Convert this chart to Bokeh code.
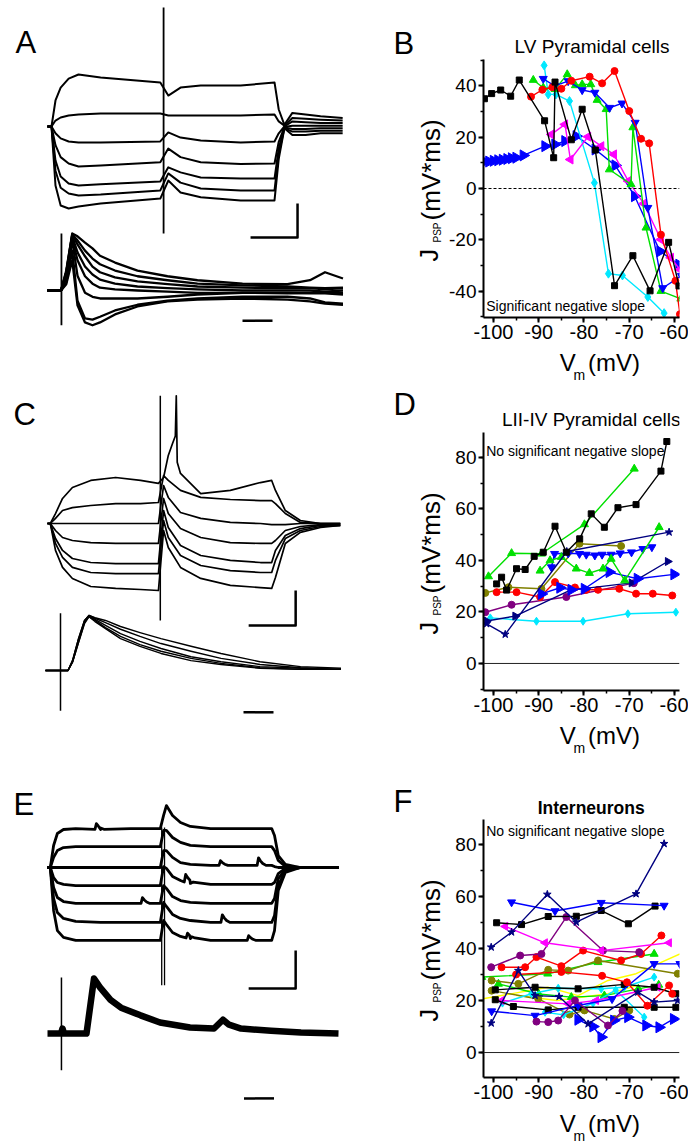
import math
import numpy as np
from bokeh.plotting import figure
from bokeh.models import Range1d, Label, Span, SingleIntervalTicker
from bokeh.layouts import row, column
from bokeh.embed import file_html
from bokeh.resources import INLINE

FONT = "Liberation Sans"

# ================= DATA =================
# ---- A: LV pyramidal cell, step traces (time ms, deflection mV)
A_up_t = [0, 8.5, 17, 28, 45, 66, 113, 240, 257, 283, 326, 411, 483, 492, 504, 521, 549, 581, 628]
A_up_1 = [0, 0, 15.3, 22.9, 28.2, 30.6, 28.8, 25.9, 18.2, 22.9, 24.1, 24.1, 25.9, 10, 1, 8, 7, 6, 5]
A_up_2 = [0, 0, 3.5, 5.3, 6.5, 7.1, 7.6, 7.6, 6.5, 6.5, 6.5, 6.5, 7.1, 3, 0.5, 5, 4.5, 4, 3.5]
A_up_3 = [0, 0, -4, -7, -8.8, -9.4, -9.4, -8.8, -3.5, -6.5, -8.2, -9.4, -8.8, -4, 0, 3, 2.5, 2, 2]
A_up_4 = [0, 0, -11, -18, -21.8, -23.5, -23, -21, -13, -18, -21, -22, -21.8, -9, -0.3, 0.5, 0.5, 0.5, 0.5]
A_up_5 = [0, 0, -20, -29.4, -33.5, -34.7, -34, -32.4, -24, -27, -30, -30.6, -30.6, -13, -0.6, -1.5, -1.5, -1, -1]
A_up_6 = [0, 0, -26, -36, -39.4, -40.6, -40, -37.6, -27.6, -33, -36.5, -37.6, -37.6, -16, -1, -3, -3, -2.5, -2.5]
A_up_7 = [0, 0, -34.7, -46.5, -48.2, -47, -45.3, -42.4, -31.8, -38.8, -41.6, -43.5, -43.5, -19, -1, -5, -5, -4, -4]
A_up_art = [247, 70, -63]            # stimulus artifact: time, top, bottom
A_up_bar_t = [432, 532, 532]         # 100 ms / 20 mV scale bar
A_up_bar_v = [-65.3, -65.3, -45.3]

A_lo_t = [0, 9, 12.5, 16.5, 20, 25, 30, 35, 45, 60, 80, 100, 130, 160, 175, 185, 197]
A_lo_1 = [0, 0, 3.5, 10, 9.5, 8.4, 7.4, 6.1, 4.9, 3.5, 2.5, 1.8, 1.2, 1.1, 1.8, 3.2, 2.1]
A_lo_2 = [0, 0, 3.2, 9.8, 8.8, 7.0, 5.6, 4.6, 3.5, 2.5, 1.8, 1.2, 0.9, 0.7, 0.5, 0.4, 0.5]
A_lo_3 = [0, 0, 3.2, 9.8, 8.1, 6.0, 4.2, 3.2, 2.3, 1.6, 1.1, 0.7, 0.5, 0.4, 0.4, 0.2, 0.4]
A_lo_4 = [0, 0, 2.6, 9.5, 6.7, 4.2, 2.8, 1.9, 1.2, 0.7, 0.4, 0.2, 0, 0, 0, -0.2, 0]
A_lo_5 = [0, 0, 2.6, 9.1, 5.3, 2.5, 1.2, 0.5, 0.2, 0, -0.2, -0.4, -0.4, -0.5, -0.4, -0.4, -0.4]
A_lo_6 = [0, 0, 2.1, 8.8, 2.6, -0.4, -1.1, -1.4, -1.4, -1.4, -1.1, -0.7, -0.4, -0.4, -0.5, -0.5, -0.7]
A_lo_7 = [0, 0, 1.4, 7.0, -1.8, -4.9, -5.1, -4.6, -3.5, -2.5, -1.8, -1.4, -1.1, -1.1, -1.4, -2.1, -2.3]
A_lo_8 = [0, 0, 1.1, 5.3, -2.6, -5.6, -6.1, -5.6, -4.2, -2.8, -1.9, -1.6, -1.4, -1.6, -1.9, -2.3, -2.5]
A_lo_art = [9.3, 10, -6.1]
A_lo_bar_t = [130, 150]
A_lo_bar_v = [-5.3, -5.3]

# ---- C: LII-IV pyramidal cell
C_up_t = [0, 6, 17, 32, 53, 92, 145, 198, 236, 247, 257, 283, 326, 389, 453, 477, 485, 506, 538, 581, 623]
C_up_1 = [0, 0, 5.7, 14.3, 20.6, 24.6, 26.3, 24.6, 22.9, 26.3, 38.9, 28.6, 17.1, 18.9, 23.4, 24.6, 18.9, 7.4, 1.7, 0, 0]
C_up_2 = [0, 0, 2.9, 7.4, 9.1, 10.3, 11.4, 11.4, 12, 27.4, 24.6, 18.9, 14.9, 13.7, 13.1, 13.1, 11.4, 5.7, 0.6, 0, 0]
C_up_3 = [0, 0, 0, 0, 0, 0, 0, 0, 0, 21.7, 14.9, 6.3, 2.9, 0.6, 0, -0.6, -0.6, -0.6, 0, 0, 0]
C_up_4 = [0, 0, -4, -8, -9.7, -10.9, -11.4, -11.4, -11.4, 14.3, 5.7, -2.9, -8, -10.9, -11.4, -11.4, -9.7, -4, -1.7, -0.6, -0.6]
C_up_5 = [0, 0, -8.6, -15.4, -20, -22.3, -22.9, -22.9, -22.9, 7.4, -2.3, -12.6, -18.3, -21.1, -22.3, -22.3, -15.4, -6.9, -2.9, -1.1, -1.1]
C_up_6 = [0, 0, -11.4, -19.4, -25.1, -28, -28.6, -28.6, -28.6, 1.7, -8, -18.3, -24, -26.9, -28, -28, -21.1, -8.6, -4, -1.7, -1.1]
C_up_7 = [0, 0, -15.4, -25.1, -31.4, -36, -37.1, -37.7, -38.3, -4, -13.7, -25.1, -31.4, -35.4, -36.6, -37.1, -30.9, -11.4, -5.1, -2.3, -1.1]
C_spike_t = [257, 266, 272, 274, 276, 283]
C_spike_v = [38.9, 45.7, 50, 73, 35, 28.6]
C_up_art = [240, 73, -55.4]
C_up_bar_t = [428, 528, 528]
C_up_bar_v = [-58.3, -58.3, -38.3]

C_lo_t = [0, 10, 15, 18, 22, 26, 29, 33, 40, 50, 63, 77, 97, 117, 143, 170, 197]
C_lo_1 = [0, 0, 0, 1.8, 5.8, 9.1, 10, 9.6, 9.1, 8, 6.9, 5.8, 4.4, 3.1, 1.6, 0.7, 0.4]
C_lo_2 = [0, 0, 0, 1.8, 5.8, 9.1, 10, 9.5, 8.7, 7.5, 6.2, 4.9, 3.5, 2.2, 1.1, 0.5, 0.2]
C_lo_3 = [0, 0, 0, 1.6, 5.5, 8.9, 10, 9.3, 8.2, 6.7, 5.3, 4, 2.5, 1.6, 0.7, 0.4, 0.2]
C_lo_4 = [0, 0, 0, 1.5, 5.1, 8.7, 9.8, 9.1, 7.8, 6.2, 4.7, 3.5, 2.2, 1.3, 0.5, 0.2, 0.2]
C_lo_5 = [0, 0, 0, 1.5, 5.1, 8.5, 9.8, 8.9, 7.6, 5.8, 4.4, 3.1, 1.8, 1.1, 0.4, 0.2, 0.2]
C_lo_art = [10, 10.4, -7.3]
C_lo_bar_t = [132, 152]
C_lo_bar_v = [-7.6, -7.6]

# ---- E: interneuron
E_up_t = [0, 6, 13, 21, 34, 60, 113, 177, 240, 247, 253, 266, 283, 304, 347, 411, 477, 483, 491, 506, 538, 619]
E_up_1 = [0, 0, 11.6, 17.9, 20, 20.5, 20, 20.5, 20.5, 27.4, 32.6, 27.4, 23.7, 21.6, 20.5, 20.5, 20.5, 16.8, 6.3, 1.6, 0, 0]
E_up_2 = [0, 0, 5.3, 8.9, 10.5, 11, 11, 11, 11, 19.5, 19.5, 15.8, 13.2, 11.6, 11, 11, 11, 8.9, 3.7, 0.5, 0, 0]
E_up_3 = [0, 0, 0, 0, 0, 0, 0, 0, 0, 8.9, 8.9, 5.3, 2.6, 1.6, 1.1, 1.1, 1.1, 0.5, 0, 0, 0, 0]
E_up_4 = [0, 0, -5.3, -7.9, -8.9, -9.5, -9.5, -9.5, -9.5, 0.5, -0.5, -4.7, -6.8, -8.4, -8.9, -8.9, -8.9, -7.9, -3.2, -0.5, 0, 0]
E_up_5 = [0, 0, -10.5, -15.8, -17.9, -18.9, -18.9, -18.9, -18.9, -9.5, -11, -15.3, -17.4, -18.4, -18.9, -18.9, -18.9, -16.3, -5.8, -1.1, 0, 0]
E_up_6 = [0, 0, -16.3, -23.7, -26.8, -28.4, -28.9, -28.9, -28.9, -18.4, -20.5, -24.7, -26.8, -27.9, -28.9, -28.9, -28.9, -25.3, -9.5, -1.6, 0, 0]
E_up_7 = [0, 0, -22.6, -33.2, -36.8, -38.4, -38.4, -38.4, -38.4, -27.9, -30, -34.2, -36.3, -37.4, -38.4, -38.4, -38.4, -33.2, -12.1, -2.6, 0, 0]
# spontaneous PSPs on the E traces: (trace index, time ms, amplitude mV)
E_up_psp = [(0, 104, 3), (2, 368, 2.5), (2, 449, 4), (3, 294, 4), (4, 202, 3),
            (5, 372, 4), (6, 298, 2.5), (6, 428, 2.5)]
E_up_art_t = [243, 249]
E_up_art_v = [21, -62]
E_up_bar_t = [428, 528, 528]
E_up_bar_v = [-63.7, -63.7, -43.7]

E_lo_t = [0, 9, 10, 11, 26, 29, 31, 35, 42, 49, 62, 75, 95, 111, 117, 121, 129, 149, 169, 194]
E_lo_v = [0, 0, 0.9, 0, 0, 6, 10, 8.4, 6.1, 4.7, 3.3, 2, 1.1, 0.9, 2.5, 1.6, 0.9, 0.5, 0.2, 0]
E_lo_art = [9.3, 10.2, -6.7]
E_lo_bar_t = [131, 151]
E_lo_bar_v = [-11.8, -11.8]

# ---- B: LV pyramidal cells, J_PSP vs Vm
B_black_x = [-102, -100.4, -98.4, -96.2, -94.3, -88.7, -86.7, -86.4, -82.8, -80.4, -77.5, -73.25, -69.2, -65.4, -61.3, -59]
B_black_y = [35, 37, 38.4, 36, 42.3, 26.4, 12, 41.5, 19, 30.9, 15, -37.9, -26.2, -39.9, -21, -38]
B_red_x = [-91.7, -89.2, -87, -85, -82.8, -78.75, -76, -73.25, -70, -67.4, -65.6, -63, -59.8, -58.8]
B_red_y = [35.8, 38.5, 39.5, 38.9, 42, 43.6, 41, 45.8, 30.2, 19.4, 17.6, -18, -36, -49]
B_green_x = [-91.2, -89, -86.4, -83.7, -81.9, -80.4, -78.5, -77.1, -75.1, -74.4, -69.6, -69.2, -66.3, -63, -58.6]
B_green_y = [42.3, 39.3, 38.7, 44.5, 40.2, 40.6, 40.6, 34.5, 30.9, 7.4, 1.6, 23.8, -15.3, -40, -43]
B_bluedn_x = [-89, -86.5, -83.5, -80.4, -77.6, -74.35, -71.6, -68.7, -65.9, -62.6, -58.5]
B_bluedn_y = [42.8, 40, 41.9, 38.4, 37.4, 31.5, 33.2, 25.7, -7.5, -38.8, -34]
B_bluert_x = [-102, -101, -100, -99, -98, -97, -96, -95, -93.4, -88.6, -86.4, -84.2, -81.7, -77.5, -73.1, -68.8, -63.2, -59]
B_bluert_y = [10.5, 10.5, 10.8, 11, 11.2, 11.5, 11.8, 12, 12.9, 16.5, 17.2, 18.5, 20.4, 15.2, 9, -3, -24.5, -29.7]
B_mag_x = [-87.2, -84.2, -83, -79.1, -76.2, -73.4, -70.2, -66.8, -63, -60.8, -58.8]
B_mag_y = [21.1, 25, 11.3, 20.2, 16.5, 13.3, 2.9, -5.9, -19.9, -27, -31.6]
B_cyan_x = [-88.8, -87.9, -86.2, -83.2, -77.7, -74.6, -71.5, -65.9, -62.3]
B_cyan_y = [48, 36.7, 36.7, 34.1, 2.2, -33.2, -33.9, -42.3, -48.6]

# ---- D: LII-IV pyramidal cells
D_black_x = [-99.3, -98.2, -97.1, -94.9, -93, -91, -89, -86.4, -83.9, -80.95, -78.4, -75.5, -72.5, -68.5, -63, -61.7]
D_black_y = [30.9, 33.5, 28.5, 36.8, 36.5, 41.6, 43.2, 53.3, 43.2, 48.4, 58.1, 52.9, 60.5, 61.7, 74.7, 86.2]
D_green1_x = [-101.1, -96, -89.4, -79.9, -68.9]
D_green1_y = [33.8, 42.8, 42.6, 54, 75.6]
D_green2_x = [-89.7, -87.5, -85, -81.7, -78.8, -75.8, -74, -71, -63.4]
D_green2_y = [36, 40, 41.3, 36.8, 35.1, 36.8, 40.6, 32.2, 52.9]
D_olive_x = [-101.8, -96.7, -89.4, -81, -71.8]
D_olive_y = [27.4, 29.6, 29, 46.5, 45.6]
D_red_x = [-99.3, -94.9, -89.7, -86.4, -82, -79.5, -76.9, -72.2, -68.5, -64.8, -60.5]
D_red_y = [27.7, 27.7, 25.8, 31.6, 29.5, 28.6, 28.6, 29, 27.1, 27.1, 26.4]
D_purple_x = [-101.8, -96, -83.9, -69]
D_purple_y = [19.9, 22.8, 25.8, 31.2]
D_cyan_x = [-100.7, -90.5, -80.2, -70.3, -59.7]
D_cyan_y = [17.7, 16.4, 16.4, 19.3, 19.9]
D_bluedn_x = [-87.2, -86.5, -83.5, -81, -79.5, -77.6, -76, -74, -72, -69.5, -67, -65]
D_bluedn_y = [37.4, 42.6, 42.8, 42.6, 42.3, 42, 42.3, 42.3, 42.8, 43.2, 44.5, 45.2]
D_bluert_x = [-89.4, -85.3, -82.8, -79.9, -74.4, -68.2, -60.1]
D_bluert_y = [27, 29.4, 28.6, 29, 35.5, 32.9, 34.6]
D_navyrt_x = [-101.5, -95.2, -83, -69.5, -61.5]
D_navyrt_y = [16.5, 18.4, 28.5, 31.3, 39.6]
D_navyst_x = [-101.5, -97.4, -83.8, -61.2]
D_navyst_y = [15.4, 11.3, 43.5, 51]

# ---- F: interneurons
F_navy1_x = [-100.5, -96, -88.1, -81.7, -68.5, -62.3]
F_navy1_y = [40.5, 46.3, 60.8, 50.1, 61, 80.3]
F_navy2_x = [-100.5, -94.5, -90.8, -85.5, -79.1, -68.1, -64.5, -59.3]
F_navy2_y = [11.3, 31.5, 21.9, 21.5, 11, 23.2, 19.4, 20]
F_blue1_x = [-96, -86.4, -76.2, -62.3]
F_blue1_y = [57.8, 54.4, 57.6, 56.5]
F_black1_x = [-99.3, -93.8, -87.9, -81.7, -76.2, -70.2, -64.3]
F_black1_y = [49.9, 49.2, 52.3, 52.4, 54.6, 49.5, 56.3]
F_mag1_x = [-97.4, -88.6, -76.2, -61.2]
F_mag1_y = [48.5, 42.2, 39.2, 42.2]
F_purple1_x = [-100.5, -94.1, -89.4, -83.9, -75.8, -67.8]
F_purple1_y = [32.8, 37.3, 37.9, 52.1, 39.2, 38.6]
F_purple2_x = [-90.5, -87.9, -85.7, -82, -74.7, -71.5]
F_purple2_y = [11.9, 11.7, 12.3, 20, 10.4, 16]
F_red1_x = [-98.2, -93, -90.5, -85, -80.2, -71.8, -67.4, -62.9]
F_red1_y = [32.8, 32.8, 36.7, 33.2, 39.2, 35.4, 37.9, 45]
F_red2_x = [-95, -85, -76, -70.5, -66, -61.2, -60.5]
F_red2_y = [30, 31, 29.5, 27, 18, 25.8, 22.6]
F_olive1_x = [-100.4, -94.5, -87.9, -83.5, -76.9, -59.3]
F_olive1_y = [27.7, 26.4, 31.8, 31.5, 35.4, 30.3]
F_olive2_x = [-100.4, -90.1, -83.2, -79.9, -73.3, -70]
F_olive2_y = [23.8, 20.6, 14.6, 16.2, 12.9, 16.2]
F_green1_x = [-102.6, -88, -76.9, -64.5]
F_green1_y = [29, 30.3, 34.7, 37.9]
F_green2_x = [-98.9, -90, -82.8, -75.5, -68, -63.5]
F_green2_y = [26.4, 22.5, 21.3, 21.9, 24.5, 26]
F_yellow1_x = [-102.5, -88, -81.3, -74.7, -68.5, -58.8]
F_yellow1_y = [20.6, 25.1, 21.9, 27.7, 30.3, 37.9]
F_yellow2_x = [-95, -86, -74.7, -68.1]
F_yellow2_y = [22, 20, 22.6, 25.8]
F_cyan1_x = [-98, -91.6, -85.7, -76.2, -71.1, -64.5]
F_cyan1_y = [19, 22.6, 24.7, 24.5, 25.1, 29]
F_cyan2_x = [-88.6, -84.5, -78, -73, -66.7]
F_cyan2_y = [15.5, 14.5, 19, 24, 13.6]
F_bluert_x = [-81.3, -78, -76.2, -73.4, -70.3, -66.3, -63.4, -60.2]
F_bluert_y = [12.6, 10, 5.9, 12.3, 13.6, 10.4, 9.7, 12.9]
F_blue2_x = [-100.4, -90.8, -81.3, -73.8, -64.5, -58.8]
F_blue2_y = [15.9, 14.2, 18.1, 20.6, 34.1, 34.1]
F_black2_x = [-99.6, -95.6, -87.9, -81.3, -71.1, -64.5, -59.7]
F_black2_y = [20.3, 17.7, 16.4, 17.4, 17.4, 17.4, 17.4]
F_black3_x = [-99.6, -90.8, -81.3, -71.1, -64.5, -59.7]
F_black3_y = [24.1, 25.1, 24.5, 26.2, 25.1, 22.6]
F_mag2_x = [-98.2, -83.5, -77.3, -63.7]
F_mag2_y = [20, 18.7, 20, 25.1]

X_TICKS = [-100, -90, -80, -70, -60]
Y_TICKS_B = [-40, -20, 0, 20, 40]
Y_TICKS_DF = [0, 20, 40, 60, 80]

# ================= STYLE / LAYOUT =================
BLACK = "#000000"; RED = "#ff0000"; GREEN = "#00e000"; BLUE = "#0000ff"
CYAN = "#00e8ff"; MAGENTA = "#ff00ff"; OLIVE = "#808000"; NAVY = "#000080"
PURPLE = "#800080"; YELLOW = "#ffff00"

PAGE_W, PAGE_H = 688, 1148
WL = 446                 # left figure spans page x 0..446
WR = PAGE_W - WL         # right column

# sub-panel placements in page pixels: x0, px/ms, baseline y, px/unit
PLACE = {
    "A_up": (47, 0.47, 126, 1.7),
    "A_lo": (47, 1.5, 290, 5.7),
    "C_up": (47, 0.47, 523, 1.75),
    "C_lo": (45, 1.5, 670, 5.5),
    "E_up": (47, 0.47, 867, 1.9),
    "E_lo": (47, 1.5, 1033, 5.5),
}


def blank_fig(w, h, x0, y0):
    p = figure(width=w, height=h, x_range=Range1d(x0, x0 + w), y_range=Range1d(y0 + h, y0),
               output_backend="svg", toolbar_location=None,
               x_axis_location=None, y_axis_location=None, min_border=0)
    p.grid.visible = False
    p.outline_line_color = None
    p.background_fill_color = None
    p.border_fill_color = None
    return p


def txt(p, x, y, text, size, align="left", baseline="middle", angle=0.0, style="normal"):
    p.add_layout(Label(x=x, y=y, text=text, text_font=FONT, text_font_size=size,
                       text_align=align, text_baseline=baseline, angle=angle,
                       text_color=BLACK, text_font_style=style))


left = blank_fig(WL, PAGE_H, 0, 0)
xr, yr = {}, {}
for k, (x0, kx, y0, ky) in PLACE.items():
    xr[k] = Range1d(-x0 / kx, (WL - x0) / kx)
    yr[k] = Range1d((y0 - PAGE_H) / ky, y0 / ky)
left.extra_x_ranges = xr
left.extra_y_ranges = yr


def tr(name, t, v, w):
    left.line(t, v, x_range_name=name, y_range_name=name, line_color=BLACK,
              line_width=w, line_join="round")


def art(name, a, w=1.5):
    left.line([a[0], a[0]], [a[1], a[2]], x_range_name=name, y_range_name=name,
              line_color=BLACK, line_width=w)


def with_psps(t, v, psps):
    pts = list(zip(t, v))
    for bt, amp in psps:
        base = float(np.interp(bt, t, v))
        pts += [(bt - 3, base), (bt, base + amp), (bt + 4, base + 0.6 * amp),
                (bt + 9, base + 0.25 * amp), (bt + 16, base)]
    pts.sort(key=lambda q: q[0])
    return [q[0] for q in pts], [q[1] for q in pts]


for v in [A_up_1, A_up_2, A_up_3, A_up_4, A_up_5, A_up_6, A_up_7]:
    tr("A_up", A_up_t, v, 2.0)
art("A_up", A_up_art, 1.8)
tr("A_up", A_up_bar_t, A_up_bar_v, 2.5)
for v in [A_lo_1, A_lo_2, A_lo_3, A_lo_4, A_lo_5, A_lo_6, A_lo_7, A_lo_8]:
    tr("A_lo", A_lo_t, v, 2.3)
art("A_lo", A_lo_art, 1.8)
tr("A_lo", A_lo_bar_t, A_lo_bar_v, 2.5)

c1_t = [t for t in C_up_t if t < C_spike_t[0]] + C_spike_t + [t for t in C_up_t if t > C_spike_t[-1]]
c1_v = [v for t, v in zip(C_up_t, C_up_1) if t < C_spike_t[0]] + C_spike_v + \
       [v for t, v in zip(C_up_t, C_up_1) if t > C_spike_t[-1]]
tr("C_up", c1_t, c1_v, 1.7)
for v in [C_up_2, C_up_3, C_up_4, C_up_5, C_up_6, C_up_7]:
    tr("C_up", C_up_t, v, 1.7)
art("C_up", C_up_art, 1.5)
tr("C_up", C_up_bar_t, C_up_bar_v, 2.5)
for v in [C_lo_1, C_lo_2, C_lo_3, C_lo_4, C_lo_5]:
    tr("C_lo", C_lo_t, v, 1.4)
art("C_lo", C_lo_art, 1.5)
tr("C_lo", C_lo_bar_t, C_lo_bar_v, 2.5)

for i, v in enumerate([E_up_1, E_up_2, E_up_3, E_up_4, E_up_5, E_up_6, E_up_7]):
    tt, vv = with_psps(E_up_t, v, [(bt, a) for k, bt, a in E_up_psp if k == i])
    tr("E_up", tt, vv, 2.8)
for t in E_up_art_t:
    art("E_up", [t, E_up_art_v[0], E_up_art_v[1]], 1.3)
tr("E_up", E_up_bar_t, E_up_bar_v, 2.5)
tr("E_lo", E_lo_t, E_lo_v, 6.5)
art("E_lo", E_lo_art, 1.5)
tr("E_lo", E_lo_bar_t, E_lo_bar_v, 2.5)

# panel letters (vertical centres)
for letter, px, py in [("A", 15, 41.5), ("C", 13, 414), ("E", 13, 803.5),
                       ("B", 393, 42.5), ("D", 393, 403.5), ("F", 393, 801)]:
    txt(left, px, py, letter, "31px")

# rotated y-axis labels of the right panels:  J_PSP (mV*ms)
FR_H = 258
for frame_top in [59, 432, 819]:
    jb = frame_top + FR_H / 2 + 73
    txt(left, 428, jb, "J", "25px", angle=math.pi / 2)
    txt(left, 437, jb - 19, "PSP", "10px", angle=math.pi / 2)
    txt(left, 430, jb - 41, "(mV*ms)", "26px", angle=math.pi / 2)

# ---------------- right column ----------------
XR = (-102.2, -58.9)


def overrides(ticks):
    return {t: str(t) for t in ticks}


def plot_fig(yrange, yticks):
    p = figure(width=WR, height=290, x_range=Range1d(*XR), y_range=Range1d(*yrange),
               output_backend="svg", toolbar_location=None,
               min_border_left=36, min_border_right=WR - 36 - 197,
               min_border_top=2, min_border_bottom=30)
    p.grid.visible = False
    p.outline_line_color = None
    p.background_fill_color = None
    p.border_fill_color = None
    p.xaxis.ticker = SingleIntervalTicker(interval=10, num_minor_ticks=2)
    p.yaxis.ticker = SingleIntervalTicker(interval=20, num_minor_ticks=2)
    p.xaxis.major_label_overrides = overrides(X_TICKS)
    p.yaxis.major_label_overrides = overrides(yticks)
    for ax in [p.xaxis[0], p.yaxis[0]]:
        ax.axis_line_width = 2
        ax.major_tick_line_width = 2
        ax.minor_tick_line_width = 1.5
        ax.major_tick_in = 0
        ax.major_tick_out = 5
        ax.minor_tick_in = 0
        ax.minor_tick_out = 3
        ax.major_label_text_font = FONT
        ax.major_label_text_font_size = "20px"
        ax.major_label_text_color = BLACK
        ax.major_label_standoff = 2
    p.yaxis[0].major_label_text_font_size = "19px"
    return p


def series(p, xs, ys, color, marker, size):
    p.line(xs, ys, line_color=color, line_width=1.4)
    if marker is None:
        return
    angle = 0.0
    m = marker
    if marker == "rt":
        m, angle = "triangle", -math.pi / 2
    elif marker == "lt":
        m, angle = "triangle", math.pi / 2
    p.scatter(xs, ys, marker=m, size=size, angle=angle, fill_color=color, line_color=color)


def xlabel(p, vcenter):
    txt(p, 540, vcenter, "V", "24px")
    txt(p, 557, vcenter + 12.5, "m", "14px")
    txt(p, 575, vcenter, "(mV)", "24px")


def inner(p, yval, text):
    p.add_layout(Label(x=-101.6, y=yval, text=text, text_font=FONT, text_font_size="14px",
                       text_color=BLACK, text_baseline="middle"))


# strips hold the texts outside the plot frames (page coordinates)
s1 = blank_fig(WR, 57, WL, 0)
txt(s1, 580, 45.5, "LV Pyramidal cells", "19px", align="center")

pB = plot_fig((-50.3, 50.3), Y_TICKS_B)
pB.add_layout(Span(location=0, dimension="width", line_color=BLACK, line_width=1, line_dash="3 2"))
series(pB, B_bluert_x, B_bluert_y, BLUE, "rt", 11)
series(pB, B_cyan_x, B_cyan_y, CYAN, "diamond", 9)
series(pB, B_mag_x, B_mag_y, MAGENTA, "lt", 9)
series(pB, B_green_x, B_green_y, GREEN, "triangle", 8)
series(pB, B_bluedn_x, B_bluedn_y, BLUE, "inverted_triangle", 8)
series(pB, B_red_x, B_red_y, RED, "circle", 7)
series(pB, B_black_x, B_black_y, BLACK, "square", 6)
inner(pB, -46.0, "Significant negative slope")

s2 = blank_fig(WR, 83, WL, 347)
xlabel(s2, 362)
txt(s2, 579, 418.5, "LII-IV Pyramidal cells", "19px", align="center")

pD = plot_fig((-10.5, 89.7), Y_TICKS_DF)
pD.add_layout(Span(location=0, dimension="width", line_color="#222222", line_width=1))
series(pD, D_cyan_x, D_cyan_y, CYAN, "diamond", 8)
series(pD, D_purple_x, D_purple_y, PURPLE, "circle", 7)
series(pD, D_olive_x, D_olive_y, OLIVE, "circle", 7)
series(pD, D_red_x, D_red_y, RED, "circle", 7)
series(pD, D_navyrt_x, D_navyrt_y, NAVY, "rt", 8)
series(pD, D_bluert_x, D_bluert_y, BLUE, "rt", 11)
series(pD, D_bluedn_x, D_bluedn_y, BLUE, "inverted_triangle", 8)
series(pD, D_green2_x, D_green2_y, GREEN, "triangle", 8)
series(pD, D_green1_x, D_green1_y, GREEN, "triangle", 8)
series(pD, D_navyst_x, D_navyst_y, NAVY, "star", 8)
series(pD, D_black_x, D_black_y, BLACK, "square", 6)
inner(pD, 82.7, "No significant negative slope")

s3 = blank_fig(WR, 97, WL, 720)
xlabel(s3, 735)
txt(s3, 579, 807, "Interneurons", "17.5px", align="center", style="bold")

pF = plot_fig((-9.6, 89.6), Y_TICKS_DF)
pF.add_layout(Span(location=0, dimension="width", line_color="#222222", line_width=1))
F_series = [
    (F_yellow1_x, F_yellow1_y, YELLOW, None, 0),
    (F_yellow2_x, F_yellow2_y, YELLOW, None, 0),
    (F_green1_x, F_green1_y, GREEN, "triangle", 8),
    (F_green2_x, F_green2_y, GREEN, "triangle", 8),
    (F_olive1_x, F_olive1_y, OLIVE, "circle", 7),
    (F_olive2_x, F_olive2_y, OLIVE, "circle", 7),
    (F_cyan1_x, F_cyan1_y, CYAN, "diamond", 8),
    (F_cyan2_x, F_cyan2_y, CYAN, "diamond", 8),
    (F_mag2_x, F_mag2_y, MAGENTA, "lt", 8),
    (F_black3_x, F_black3_y, BLACK, "square", 6),
    (F_black2_x, F_black2_y, BLACK, "square", 6),
    (F_blue2_x, F_blue2_y, BLUE, "inverted_triangle", 8),
    (F_bluert_x, F_bluert_y, BLUE, "rt", 11),
    (F_purple2_x, F_purple2_y, PURPLE, "circle", 7),
    (F_red2_x, F_red2_y, RED, "circle", 7),
    (F_red1_x, F_red1_y, RED, "circle", 7),
    (F_purple1_x, F_purple1_y, PURPLE, "circle", 7),
    (F_mag1_x, F_mag1_y, MAGENTA, "lt", 8),
    (F_black1_x, F_black1_y, BLACK, "square", 6),
    (F_blue1_x, F_blue1_y, BLUE, "inverted_triangle", 8),
    (F_navy2_x, F_navy2_y, NAVY, "star", 8),
    (F_navy1_x, F_navy1_y, NAVY, "star", 8),
]
for xs, ys, c, m, s in F_series:
    series(pF, xs, ys, c, m, s)
inner(pF, 85.0, "No significant negative slope")

s4 = blank_fig(WR, 41, WL, 1107)
xlabel(s4, 1122.5)

right = column(s1, pB, s2, pD, s3, pF, s4, spacing=0)
layout = row(left, right, spacing=0)
open("out.html", "w").write(file_html(layout, INLINE))
